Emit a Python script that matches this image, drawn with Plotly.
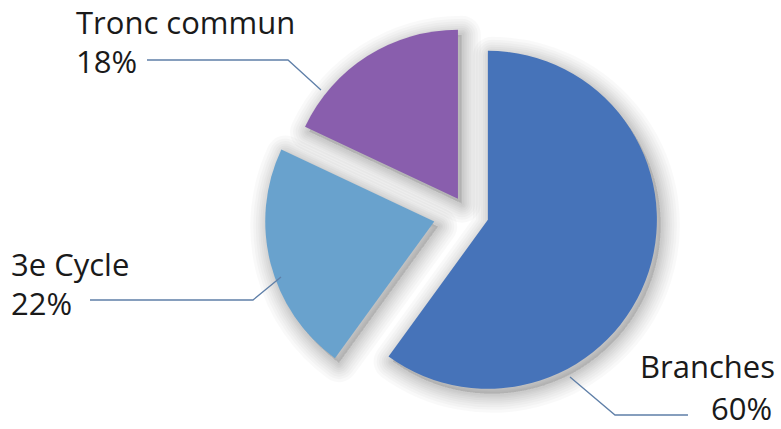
import plotly.graph_objects as go

labels = ["Branches", "3e Cycle", "Tronc commun"]
values = [60, 22, 18]
pct_text = ["60%", "22%", "18%"]
colors = ["#4673B9", "#69A2CD", "#895EAD"]
pulls = [0.13, 0.2, 0.1]

W, H = 781, 429
cx, cy, r = 467, 213, 169
half = r * (1 + max(pulls))


def dom(dx=0, dy=0):
    return dict(x=[(cx + dx - half) / W, (cx + dx + half) / W],
                y=[1 - (cy + dy + half) / H, 1 - (cy + dy - half) / H])


fig = go.Figure()

# soft drop shadow layers (blurred outline, offset to lower right)
for lw in [38, 32, 27, 22, 18, 14, 10, 7, 4]:
    a = 0.024
    fig.add_trace(go.Pie(
        labels=labels, values=values, sort=False, direction="clockwise", rotation=0,
        pull=pulls, domain=dom(4, 5), textinfo="none", hoverinfo="skip",
        marker=dict(colors=[f"rgba(0,0,0,{a / 2})"] * 3,
                    line=dict(color=f"rgba(0,0,0,{a})", width=lw)),
        showlegend=False))

fig.add_trace(go.Pie(
    labels=labels, values=values, sort=False, direction="clockwise", rotation=0,
    pull=pulls, domain=dom(), textinfo="none", hoverinfo="skip",
    marker=dict(colors=colors, line=dict(width=0)),
    showlegend=False))

font = dict(family="Open Sans, Lato, sans-serif", size=31, color="#1a1a1a")


def px(x, y):
    return x / W, 1 - y / H


annots = [
    # (text, x, y, xanchor)
    ("Tronc commun", 74, 22, "left"),
    ("18%", 74, 61, "left"),
    ("3e Cycle", 9, 264, "left"),
    ("22%", 9, 303, "left"),
    ("Branches", 777, 366, "right"),
    ("60%", 774, 408, "right"),
]
for i, (t, x, y, xa) in enumerate(annots):
    ax, ay = px(x, y)
    fig.add_annotation(text=t, x=ax, y=ay, xref="paper", yref="paper",
                       xanchor=xa, yanchor="middle", showarrow=False, font=font)

leaders = [
    [(147, 60), (288, 60), (321, 90)],
    [(90, 300), (253, 300), (281, 277)],
    [(570, 377), (615, 415), (688, 415)],
]
for pts in leaders:
    path = "M " + " L ".join(f"{px(x, y)[0]:.5f},{px(x, y)[1]:.5f}" for x, y in pts)
    fig.add_shape(type="path", path=path, xref="paper", yref="paper",
                  line=dict(color="#5F7FA8", width=1.3))

fig.update_layout(width=W, height=H, margin=dict(l=0, r=0, t=0, b=0),
                  paper_bgcolor="white", plot_bgcolor="white")

fig.write_html("out.html", config={"displayModeBar": False},
               post_script="document.body.style.margin='0';document.body.style.padding='0';")
